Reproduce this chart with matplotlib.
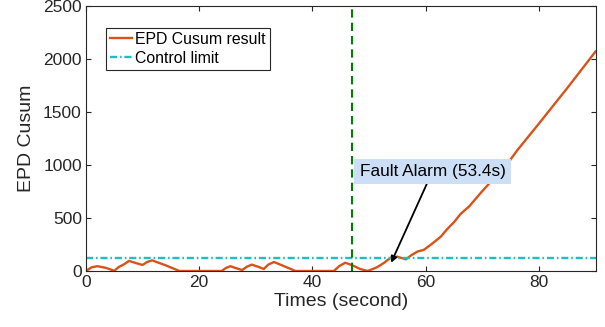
import numpy as np
import matplotlib
matplotlib.use('Agg')
import matplotlib.pyplot as plt

# values
times = [0, 1.0, 2.0, 3.5, 5.0, 5.8, 6.7, 7.6, 8.8, 10.0, 10.8, 11.7, 14.0, 16.5,
         24.0, 24.7, 25.5, 26.6, 27.6, 28.4, 29.3, 30.4, 31.4, 32.2, 33.2, 35.0, 37.0,
         43.8, 44.7, 45.8, 47.0, 48.4, 49.7, 50.5, 51.4, 52.6, 53.8, 55.0, 56.5, 57.5,
         58.5, 59.7, 61.2, 62.7, 63.8, 65.0, 66.2, 67.7, 69.7, 71.8, 74.7, 76.2, 80.0,
         85.0, 90.0]
cusum = [0, 35, 45, 30, 2, 38, 62, 95, 75, 57, 85, 100, 55, 0,
         0, 28, 45, 25, 9, 40, 60, 40, 19, 60, 85, 45, 0,
         0, 45, 78, 55, 20, 0, 15, 35, 75, 125, 135, 110, 150,
         182, 200, 260, 325, 395, 460, 540, 610, 735, 860, 1030, 1140, 1390,
         1725, 2070]
control_limit = 120
fault_time = 47
alarm_time = 53.4
alarm_label = 'Fault Alarm (53.4s)'

plt.rcParams['font.family'] = ['Liberation Sans', 'DejaVu Sans']
fig = plt.figure(figsize=(6.05, 3.27), dpi=100)
ax = fig.add_axes([0.1421, 0.1713, 0.8422, 0.8104])

ax.plot(times, cusum, color='#D95319', lw=1.7, label='EPD Cusum result')
ax.axhline(control_limit, color='#1CC0C0', lw=1.7, dashes=(3.0, 1.2, 0.7, 1.2),
           label='Control limit')
ax.axvline(fault_time, color='#008000', lw=1.5, dashes=(4, 2.4))

ax.annotate(alarm_label, xy=(alarm_time + 0.5, 78), xytext=(61.2, 939),
            fontsize=12.4, color='black', ha='center', va='center',
            bbox=dict(boxstyle='square,pad=0.3', fc='#CCDFF6', ec='none'),
            arrowprops=dict(arrowstyle='-|>', color='k', lw=1.3,
                            mutation_scale=9, shrinkA=0, shrinkB=0))

ax.set_xlim(0, 90)
ax.set_ylim(0, 2500)
ax.set_xticks([0, 20, 40, 60, 80])
ax.set_yticks([0, 500, 1000, 1500, 2000, 2500])
ax.tick_params(direction='in', top=True, right=True, length=3.5, width=0.8,
               labelsize=12.5, colors='#262626', pad=3)
for s in ax.spines.values():
    s.set_color('#262626')
    s.set_linewidth(0.8)

ax.set_xlabel('Times (second)', fontsize=14, color='#262626', labelpad=2)
ax.set_ylabel('EPD Cusum', fontsize=14, color='#262626', labelpad=6)

leg = ax.legend(loc='upper left', bbox_to_anchor=(0.039, 0.917), borderaxespad=0,
                fontsize=11.4, fancybox=False, framealpha=1, edgecolor='#262626',
                handlelength=1.4, handletextpad=0.2, labelspacing=0.25,
                borderpad=0.25)
leg.get_frame().set_linewidth(0.8)

fig.savefig('out.png', dpi=100)
